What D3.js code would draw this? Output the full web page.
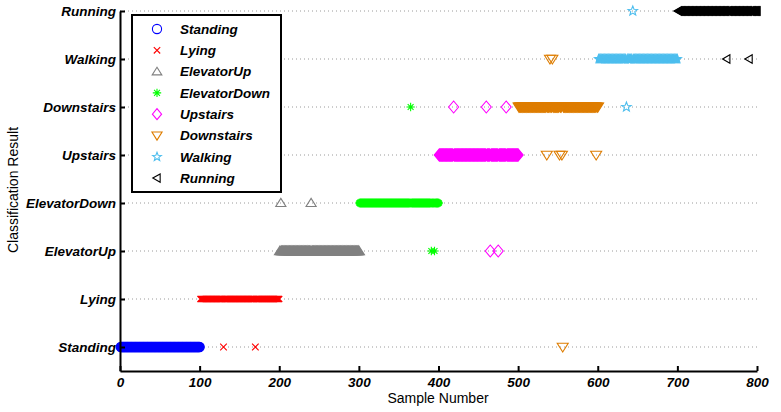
<!DOCTYPE html>
<html>
<head>
<meta charset="utf-8">
<script src="https://cdn.jsdelivr.net/npm/d3@7"></script>
<style>
  body { margin: 0; background: #fff; }
  svg { display: block; font-family: "Liberation Sans", Arial, Helvetica, sans-serif; }
</style>
</head>
<body>
<svg id="chart" width="781" height="412"></svg>
<script>
// ---- data ----
const classes = ["Standing", "Lying", "ElevatorUp", "ElevatorDown", "Upstairs", "Downstairs", "Walking", "Running"];
const xTicks = [0, 100, 200, 300, 400, 500, 600, 700, 800];
// sample range (first, last) belonging to each true class
const trueRanges = [[1, 100], [101, 200], [201, 300], [301, 400], [401, 500], [501, 600], [601, 700], [701, 800]];
// misclassified samples: [sample, predicted class]
const errStanding = [];
const errLying = [[130, "Standing"], [170, "Standing"]];
const errElevatorUp = [[202, "ElevatorDown"], [240, "ElevatorDown"]];
const errElevatorDown = [[365, "Downstairs"], [391, "ElevatorUp"], [395, "ElevatorUp"]];
const errUpstairs = [[419, "Downstairs"], [460, "Downstairs"], [485, "Downstairs"], [465, "ElevatorUp"], [475, "ElevatorUp"]];
const errDownstairs = [[540, "Walking"], [543, "Walking"], [536, "Upstairs"], [552, "Upstairs"], [555, "Upstairs"], [598, "Upstairs"], [556, "Standing"]];
const errWalking = [[636, "Downstairs"], [644, "Running"]];
const errRunning = [[762, "Walking"], [790, "Walking"]];
const errors = [errStanding, errLying, errElevatorUp, errElevatorDown, errUpstairs, errDownstairs, errWalking, errRunning];

const colors = ["#0000ff", "#ff0000", "#808080", "#00ff00", "#ff00ff", "#de7d00", "#4dbeee", "#000000"];

// ---- build per-sample records ----
const points = [];
classes.forEach((c, i) => {
  const errMap = new Map(errors[i].map(e => [e[0], e[1]]));
  const [a, b] = trueRanges[i];
  for (let s = a; s <= b; s++) {
    points.push({ sample: s, trueClass: c, pred: errMap.has(s) ? errMap.get(s) : c, err: errMap.has(s) });
  }
});

// ---- marker shapes ----
function markerPath(cls, s) {
  switch (cls) {
    case "Standing": return d3.symbol(d3.symbolCircle, Math.PI * s * s)();
    case "Lying": return `M${-s},${-s}L${s},${s}M${-s},${s}L${s},${-s}`;
    case "ElevatorUp": return `M0,${-s}L${s * 1.1},${s * 0.75}L${-s * 1.1},${s * 0.75}Z`;
    case "ElevatorDown": {
      const d = s * 0.7;
      return `M${-s},0L${s},0M0,${-s}L0,${s}M${-d},${-d}L${d},${d}M${-d},${d}L${d},${-d}`;
    }
    case "Upstairs": return `M0,${-s * 1.2}L${s},0L0,${s * 1.2}L${-s},0Z`;
    case "Downstairs": return `M0,${s}L${s * 1.1},${-s * 0.75}L${-s * 1.1},${-s * 0.75}Z`;
    case "Walking": {
      let p = "";
      for (let k = 0; k < 10; k++) {
        const r = k % 2 === 0 ? s : s * 0.42;
        const ang = -Math.PI / 2 + k * Math.PI / 5;
        p += (k === 0 ? "M" : "L") + (r * Math.cos(ang)).toFixed(2) + "," + (r * Math.sin(ang)).toFixed(2);
      }
      return p + "Z";
    }
    case "Running": return `M${-s},0L${s * 0.75},${-s * 1.0}L${s * 0.75},${s * 1.0}Z`;
  }
}
const bandSize = { Standing: 4.6, Lying: 3.0, ElevatorUp: 5.0, ElevatorDown: 4.2, Upstairs: 5.0, Downstairs: 5.2, Walking: 4.2, Running: 4.2 };
const errSize = { Standing: 5, Lying: 3.3, ElevatorUp: 4.6, ElevatorDown: 4.2, Upstairs: 5, Downstairs: 5, Walking: 5, Running: 4.2 };
const legendSize = { Standing: 4.6, Lying: 3.2, ElevatorUp: 4.4, ElevatorDown: 4.2, Upstairs: 4.6, Downstairs: 4.6, Walking: 4.6, Running: 4.2 };

// ---- layout ----
const svg = d3.select("#chart");
const x = d3.scaleLinear().domain([0, 800]).range([120, 757]);
const y = d3.scaleLinear().domain([0.5, 8]).range([371, 11]);
const yOf = c => y(classes.indexOf(c) + 1);

// grid lines (dotted) at each class
svg.append("g").selectAll("line").data(classes).join("line")
  .attr("x1", x(0)).attr("x2", x(800))
  .attr("y1", d => yOf(d)).attr("y2", d => yOf(d))
  .attr("stroke", "#9a9a9a").attr("stroke-width", 1).attr("stroke-dasharray", "1,3");

// markers
const colorOf = c => colors[classes.indexOf(c)];
const gPts = svg.append("g");
// bands first, then errors on top
const ordered = points.filter(p => !p.err).concat(points.filter(p => p.err));
gPts.selectAll("path").data(ordered).join("path")
  .attr("transform", d => `translate(${x(d.sample)},${yOf(d.pred)})`)
  .attr("d", d => markerPath(d.trueClass, d.err ? errSize[d.trueClass] : bandSize[d.trueClass]))
  .attr("fill", d => (!d.err && d.trueClass !== "Lying" && d.trueClass !== "ElevatorDown") ? colorOf(d.trueClass) : "none")
  .attr("stroke", d => colorOf(d.trueClass))
  .attr("stroke-width", d => d.err ? 1.1 : (d.trueClass === "ElevatorDown" ? 2.4 : 1.2))
  .attr("stroke-linejoin", "miter");

// axes
const xAxis = d3.axisBottom(x).tickValues(xTicks).tickSizeInner(-5).tickSizeOuter(0).tickPadding(9);
const gx = svg.append("g").attr("transform", `translate(0,${y(0.5)})`).call(xAxis);
gx.select(".domain").attr("stroke", "#000").attr("stroke-width", 2);
gx.selectAll(".tick line").attr("stroke", "#000").attr("stroke-width", 2);
gx.selectAll(".tick text").attr("font-size", 13.5).attr("font-weight", "bold").attr("font-style", "italic")
  .attr("fill", "#000").attr("font-family", "Liberation Sans, Arial, sans-serif").attr("dy", "0.5em");

const yAxis = d3.axisLeft(y).tickValues(d3.range(1, 9)).tickFormat(i => classes[i - 1])
  .tickSizeInner(-5).tickSizeOuter(0).tickPadding(4);
const gy = svg.append("g").attr("transform", `translate(${x(0)},0)`).call(yAxis);
gy.select(".domain").attr("stroke", "#000").attr("stroke-width", 2);
gy.selectAll(".tick line").attr("stroke", "#000").attr("stroke-width", 2);
gy.selectAll(".tick text").attr("font-size", 13.5).attr("font-weight", "bold").attr("font-style", "italic")
  .attr("fill", "#000").attr("font-family", "Liberation Sans, Arial, sans-serif");

// axis titles
svg.append("text").attr("x", 438).attr("y", 403).attr("text-anchor", "middle")
  .attr("font-size", 14).attr("fill", "#000").text("Sample Number");
svg.append("text").attr("transform", "translate(18,190) rotate(-90)").attr("text-anchor", "middle")
  .attr("font-size", 14).attr("fill", "#000").text("Classification Result");

// legend
const lg = svg.append("g");
lg.append("rect").attr("x", 132).attr("y", 15).attr("width", 149).attr("height", 177)
  .attr("fill", "#fff").attr("stroke", "#000").attr("stroke-width", 2);
const items = lg.selectAll("g.item").data(classes).join("g").attr("class", "item")
  .attr("transform", (d, i) => `translate(0,${29 + i * 21.3})`);
items.append("path").attr("transform", "translate(157,0)")
  .attr("d", d => markerPath(d, legendSize[d]))
  .attr("fill", "none").attr("stroke", d => colorOf(d)).attr("stroke-width", 1.1);
items.append("text").attr("x", 180).attr("y", 0).attr("dy", "0.35em")
  .attr("font-size", 13.5).attr("font-weight", "bold").attr("font-style", "italic").attr("fill", "#000")
  .text(d => d);
</script>
</body>
</html>
